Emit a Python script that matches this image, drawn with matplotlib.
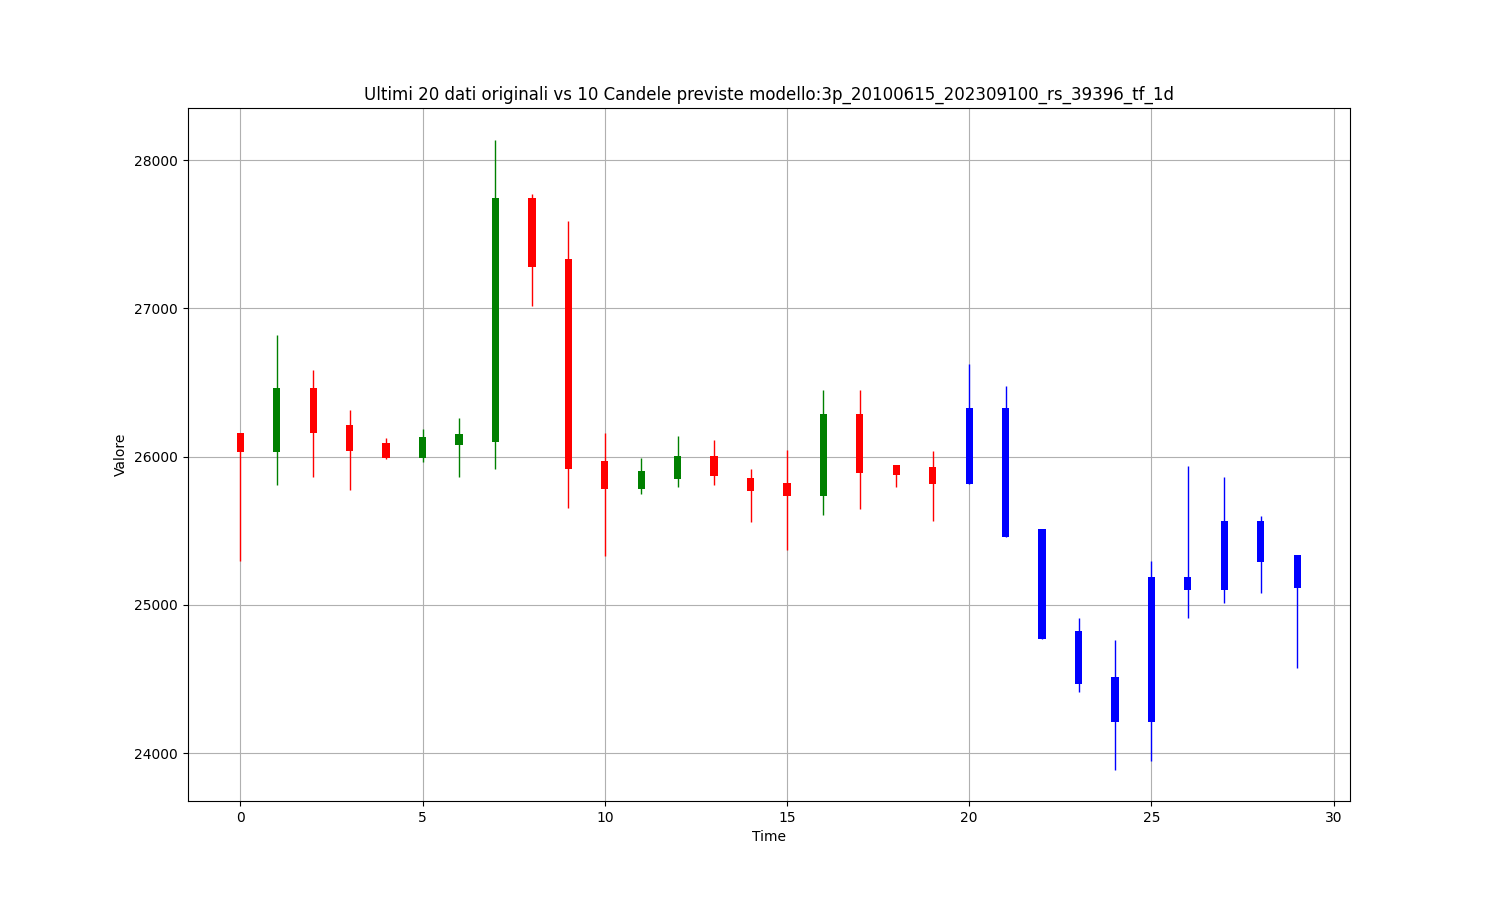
import numpy as np
import matplotlib
matplotlib.use("Agg")
import matplotlib.pyplot as plt

# ultimi 20 dati originali (open, high, low, close)
orig_open = [26157, 26031, 26461, 26211, 26090, 25989, 26076, 26098, 27742, 27331,
             25968, 25781, 25849, 26002, 25854, 25820, 25734, 26285, 25941, 25928]
orig_high = [26157, 26818, 26582, 26312, 26128, 26184, 26258, 28140, 27769, 27589,
             26157, 25989, 26137, 26110, 25914, 26042, 26447, 26447, 25947, 26036]
orig_low = [25296, 25808, 25862, 25775, 25982, 25964, 25862, 25914, 27015, 25651,
            25330, 25746, 25795, 25806, 25559, 25370, 25609, 25645, 25795, 25564]
orig_close = [26031, 26461, 26157, 26038, 25989, 26130, 26150, 27742, 27279, 25914,
              25781, 25901, 26002, 25867, 25768, 25734, 26285, 25888, 25876, 25814]

# 10 candele previste
pred_open = [25815, 26331, 25510, 24822, 24514, 24208, 25188, 25099, 25564, 25338]
pred_high = [26627, 26474, 25510, 24910, 24761, 25294, 25939, 25861, 25597, 25338]
pred_low = [25815, 25456, 24767, 24411, 23889, 23943, 24910, 25011, 25077, 24574]
pred_close = [26331, 25456, 24767, 24466, 24208, 25188, 25099, 25564, 25288, 25117]

fig, ax = plt.subplots(figsize=(15, 9), dpi=100)

x_orig = np.arange(len(orig_open))
x_pred = np.arange(len(orig_open), len(orig_open) + len(pred_open))

o = np.array(orig_open)
c = np.array(orig_close)
colors = np.where(c >= o, "green", "red")
ax.vlines(x_orig, orig_low, orig_high, colors=colors, linewidth=1)
ax.bar(x_orig, np.abs(c - o), width=0.2, bottom=np.minimum(o, c), color=colors)

po = np.array(pred_open)
pc = np.array(pred_close)
ax.vlines(x_pred, pred_low, pred_high, colors="blue", linewidth=1)
ax.bar(x_pred, np.abs(pc - po), width=0.2, bottom=np.minimum(po, pc), color="blue")

ax.set_xlim(-1.45, 30.45)
ax.set_title("Ultimi 20 dati originali vs 10 Candele previste modello:3p_20100615_202309100_rs_39396_tf_1d")
ax.set_xlabel("Time")
ax.set_ylabel("Valore")
ax.grid(True)
ax.set_axisbelow(True)

plt.savefig("out.png")
